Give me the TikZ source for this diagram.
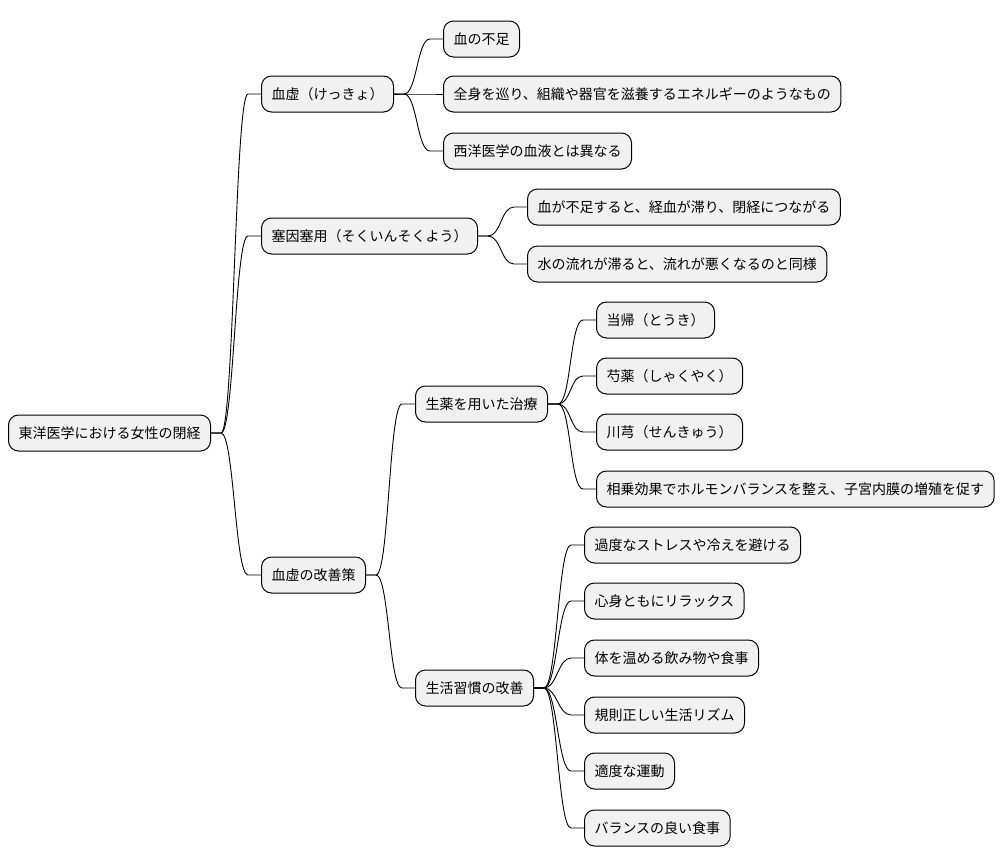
\documentclass[tikz,border=0pt]{standalone}
\usepackage{fontspec}
\setmainfont{Noto Sans CJK JP}
\usetikzlibrary{calc}
\definecolor{boxfill}{HTML}{F1F1F1}
\tikzset{
  mmbox/.style={draw=black, fill=boxfill, line width=1pt, rounded corners=10pt,
    minimum height=36pt, inner xsep=10pt, inner ysep=0pt, anchor=west,
    font=\fontsize{14}{16}\selectfont},
  mmlink/.style={draw=black, line width=0.9pt}
}
\newcommand\mmconnect[2]{%
  \draw[mmlink] (#1.east) -- ++(10,0) .. controls +(13,0) and ($(#2.west)+(-26,0)$) .. ($(#2.west)+(-13,0)$) -- (#2.west);}
\begin{document}
\begin{tikzpicture}[x=1pt,y=-1pt]
\useasboundingbox (0,0) rectangle (1006,865);
\node[mmbox] (root) at (8,433) {東洋医学における女性の閉経};
\node[mmbox] (a) at (261,94) {血虚（けっきょ）};
\node[mmbox] (b) at (261,236) {塞因塞用（そくいんそくよう）};
\node[mmbox] (c) at (261,575) {血虚の改善策};
\node[mmbox] (a1) at (443,39) {血の不足};
\node[mmbox] (a2) at (443,94) {全身を巡り、組織や器官を滋養するエネルギーのようなもの};
\node[mmbox] (a3) at (443,151) {西洋医学の血液とは異なる};
\node[mmbox] (b1) at (527,207) {血が不足すると、経血が滞り、閉経につながる};
\node[mmbox] (b2) at (527,264) {水の流れが滞ると、流れが悪くなるのと同様};
\node[mmbox] (c1) at (415,404) {生薬を用いた治療};
\node[mmbox] (c2) at (415,688) {生活習慣の改善};
\node[mmbox] (c11) at (596,320) {当帰（とうき）};
\node[mmbox] (c12) at (596,376) {芍薬（しゃくやく）};
\node[mmbox] (c13) at (596,432) {川芎（せんきゅう）};
\node[mmbox] (c14) at (596,489) {相乗効果でホルモンバランスを整え、子宮内膜の増殖を促す};
\node[mmbox] (c21) at (584,545) {過度なストレスや冷えを避ける};
\node[mmbox] (c22) at (584,601) {心身ともにリラックス};
\node[mmbox] (c23) at (584,658) {体を温める飲み物や食事};
\node[mmbox] (c24) at (584,715) {規則正しい生活リズム};
\node[mmbox] (c25) at (584,771) {適度な運動};
\node[mmbox] (c26) at (584,828) {バランスの良い食事};
\mmconnect{root}{a}
\mmconnect{root}{b}
\mmconnect{root}{c}
\mmconnect{a}{a1}
\mmconnect{a}{a2}
\mmconnect{a}{a3}
\mmconnect{b}{b1}
\mmconnect{b}{b2}
\mmconnect{c}{c1}
\mmconnect{c}{c2}
\mmconnect{c1}{c11}
\mmconnect{c1}{c12}
\mmconnect{c1}{c13}
\mmconnect{c1}{c14}
\mmconnect{c2}{c21}
\mmconnect{c2}{c22}
\mmconnect{c2}{c23}
\mmconnect{c2}{c24}
\mmconnect{c2}{c25}
\mmconnect{c2}{c26}
\end{tikzpicture}
\end{document}
